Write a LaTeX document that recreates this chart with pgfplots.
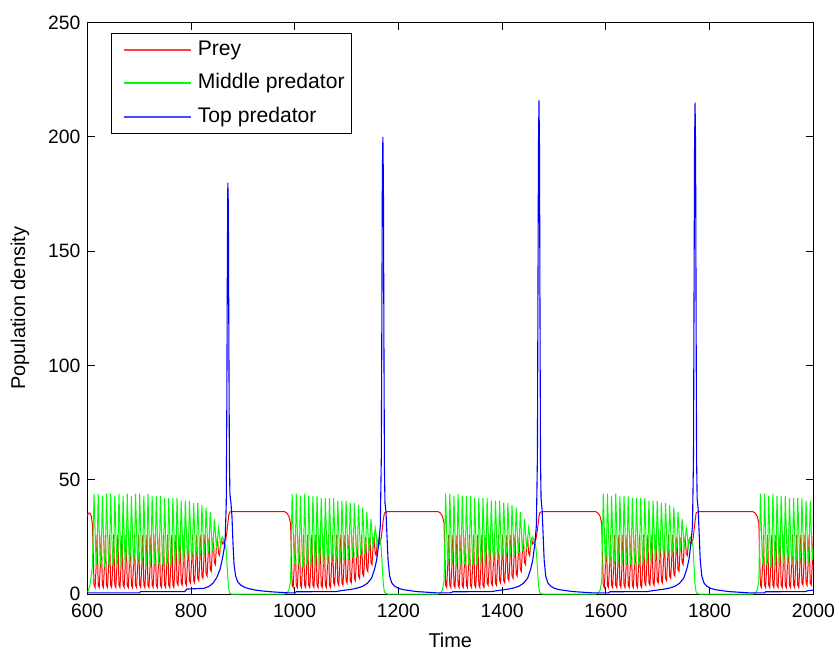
\documentclass[border=0pt]{standalone}
\usepackage{fontspec}
\setmainfont{Liberation Sans}
\usepackage{pgfplots}
\usepackage{pgfplotstable}
\pgfplotsset{compat=1.18}

\pgfplotstableread{
t p m
600 34 1
602 35.5 1.5
605 35.5 4
608 34 9
610 30 13
613 4 44
615 3 28
617 12 13
619 26 18
621 4 44
623 3 28
625 12 13
627 26 18
629 4 43
631 3 27
633 12 12
635 26 17
637 4 44
639 3 28
641 12 13
643 26 18
645 4 44
647 3 28
649 12 13
651 26 18
653 4 43
655 3 28
657 12 13
659 26 18
661 4 44
663 3 28
665 12 12
667 26 17
669 4 43
671 3 27
673 12 13
675 26 18
677 4 44
679 3 28
681 12 13
683 26 18
685 4 43
687 3 28
689 12 13
691 26 18
693 4 44
695 3 28
697 12 13
699 26 18
701 4 44
703 3 28
705 12 13
707 26 18
709 4 43
711 3 27
713 12 12
715 26 17
717 4 44
719 3 28
721 12 13
723 26 18
725 4 43
727 3 28
729 12 13
731 26 18
733 4 43
735 3 28
737 12 13
739 26 18
741 4 43
743 3 28
745 12 13
747 26 18
749 4 42
751 3 27
753 12 13
755 26 18
757 4 42
759 3 27
761 12 13
763 26 18
765 4 42
767 3 28
769 12 14
771 26 19
773 5 42
775 4 28
777 13 14
779 26 19
781 5 41
783 4 27
785 13 14
787 26 19
789 5 41
791 4 28
793 13 15
795 26 20
797 6 41
799 5 28
801 14 15
803 26 20
805 6 40
807 5 28
809 14 16
811 26 21
813 7 40
815 6 28
817 15 16
819 26 21
821 8 39
823 7 28
825 16 17
827 26 22
829 9 38
831 8 28
833 17 18
835 25 23
837 11 36
839 10 28
841 19 19
843 25 23
845 14 33
847 13 27
849 21 20
851 25 24
853 18 29
855 17 26
857 22 21
859 24 24
861 22 25
864 23 23
867 24 21
869 27 15
871 31 7
873 35 2
875 36 0.5
878 36.2 0.1
980 36.2 0.1
985 35.5 0.5
989 34 2
992 31 6
995 4 44
997 3 28
999 12 13
1001 26 18
1003 4 44
1005 3 28
1007 12 13
1009 26 18
1011 4 43
1013 3 27
1015 12 12
1017 26 17
1019 4 44
1021 3 28
1023 12 13
1025 26 18
1027 4 43
1029 3 28
1031 12 13
1033 26 18
1035 4 43
1037 3 28
1039 12 13
1041 26 18
1043 4 43
1045 3 28
1047 12 13
1049 26 18
1051 4 42
1053 3 27
1055 12 13
1057 26 18
1059 4 42
1061 3 27
1063 12 13
1065 26 18
1067 4 42
1069 3 28
1071 12 14
1073 26 19
1075 5 42
1077 4 28
1079 13 14
1081 26 19
1083 5 41
1085 4 27
1087 13 14
1089 26 19
1091 5 41
1093 4 28
1095 13 15
1097 26 20
1099 6 41
1101 5 28
1103 14 15
1105 26 20
1107 6 40
1109 5 28
1111 14 16
1113 26 21
1115 7 40
1117 6 28
1119 15 16
1121 26 21
1123 8 39
1125 7 28
1127 16 17
1129 26 22
1131 9 38
1133 8 28
1135 17 18
1137 25 23
1139 11 36
1141 10 28
1143 19 19
1145 25 23
1147 14 33
1149 13 27
1151 21 20
1153 25 24
1155 18 29
1157 17 26
1159 22 21
1161 24 24
1163 22 25
1165 23 23
1167 25 20
1169 29 11
1171 33 4
1173 35.5 1
1176 36 0.3
1180 36.2 0.1
1276 36.2 0.1
1281 35.5 0.5
1285 34 2
1288 31 6
1291 4 44
1293 3 28
1295 12 13
1297 26 18
1299 4 44
1301 3 28
1303 12 13
1305 26 18
1307 4 43
1309 3 27
1311 12 12
1313 26 17
1315 4 44
1317 3 28
1319 12 13
1321 26 18
1323 4 43
1325 3 28
1327 12 13
1329 26 18
1331 4 43
1333 3 28
1335 12 13
1337 26 18
1339 4 43
1341 3 28
1343 12 13
1345 26 18
1347 4 42
1349 3 27
1351 12 13
1353 26 18
1355 4 42
1357 3 27
1359 12 13
1361 26 18
1363 4 42
1365 3 28
1367 12 14
1369 26 19
1371 5 42
1373 4 28
1375 13 14
1377 26 19
1379 5 41
1381 4 27
1383 13 14
1385 26 19
1387 5 41
1389 4 28
1391 13 15
1393 26 20
1395 6 41
1397 5 28
1399 14 15
1401 26 20
1403 6 40
1405 5 28
1407 14 16
1409 26 21
1411 7 40
1413 6 28
1415 15 16
1417 26 21
1419 8 39
1421 7 28
1423 16 17
1425 26 22
1427 9 38
1429 8 28
1431 17 18
1433 25 23
1435 11 36
1437 10 28
1439 19 19
1441 25 23
1443 14 33
1445 13 27
1447 21 20
1449 25 24
1451 18 29
1453 17 26
1455 22 21
1457 24 24
1459 22 25
1462 23 23
1465 24 21
1468 28 12
1470 32 4
1472 35.5 1
1475 36 0.3
1479 36.2 0.1
1580 36.2 0.1
1585 35.5 0.5
1589 34 2
1592 31 6
1595 4 44
1597 3 28
1599 12 13
1601 26 18
1603 4 44
1605 3 28
1607 12 13
1609 26 18
1611 4 43
1613 3 27
1615 12 12
1617 26 17
1619 4 44
1621 3 28
1623 12 13
1625 26 18
1627 4 43
1629 3 28
1631 12 13
1633 26 18
1635 4 43
1637 3 28
1639 12 13
1641 26 18
1643 4 43
1645 3 28
1647 12 13
1649 26 18
1651 4 42
1653 3 27
1655 12 13
1657 26 18
1659 4 42
1661 3 27
1663 12 13
1665 26 18
1667 4 42
1669 3 28
1671 12 14
1673 26 19
1675 5 42
1677 4 28
1679 13 14
1681 26 19
1683 5 41
1685 4 27
1687 13 14
1689 26 19
1691 5 41
1693 4 28
1695 13 15
1697 26 20
1699 6 41
1701 5 28
1703 14 15
1705 26 20
1707 6 40
1709 5 28
1711 14 16
1713 26 21
1715 7 40
1717 6 28
1719 15 16
1721 26 21
1723 8 39
1725 7 28
1727 16 17
1729 26 22
1731 9 38
1733 8 28
1735 17 18
1737 25 23
1739 11 36
1741 10 28
1743 19 19
1745 25 23
1747 14 33
1749 13 27
1751 21 20
1753 25 24
1755 18 29
1757 17 26
1759 22 21
1761 24 24
1763 22 25
1766 23 23
1768 24 21
1770 28 12
1772 32 4
1774 35.5 1
1777 36 0.3
1781 36.2 0.1
1883 36.2 0.1
1888 35.5 0.5
1892 34 2
1895 31 6
1898 4 44
1900 3 28
1902 12 13
1904 26 18
1906 4 44
1908 3 28
1910 12 13
1912 26 18
1914 4 43
1916 3 27
1918 12 12
1920 26 17
1922 4 44
1924 3 28
1926 12 13
1928 26 18
1930 4 43
1932 3 28
1934 12 13
1936 26 18
1938 4 43
1940 3 28
1942 12 13
1944 26 18
1946 4 43
1948 3 28
1950 12 13
1952 26 18
1954 4 42
1956 3 27
1958 12 13
1960 26 18
1962 4 42
1964 3 27
1966 12 13
1968 26 18
1970 4 42
1972 3 28
1974 12 14
1976 26 19
1978 5 42
1980 4 28
1982 13 14
1984 26 19
1986 5 41
1988 4 27
1990 13 14
1992 26 19
1994 5 41
1996 4 28
1998 13 15
2000 26 20
}\rg

\definecolor{mgreen}{rgb}{0,1,0}

\begin{document}
\begin{tikzpicture}
\useasboundingbox (-43.65bp,-27.85bp) rectangle (375.85bp,297.15bp);
\begin{axis}[
  at={(0,0)}, anchor=south west,
  scale only axis, width=363bp, height=285.9bp,
  xmin=600, xmax=2000, ymin=0, ymax=250,
  xtick={600,800,...,2000}, ytick={0,50,...,250},
  tick align=inside, major tick length=3.6bp,
  axis line style={line width=0.6bp},
  every tick/.style={black, line width=0.5bp},
  /pgf/number format/assume math mode=true,
  /pgf/number format/1000 sep={},
  ticklabel style={font=\fontsize{9.7}{11.6}\selectfont},
  xticklabel style={yshift=-1.4bp},
  xlabel={Time}, ylabel={Population density},
  label style={font=\fontsize{9.7}{11.6}\selectfont},
  every axis x label/.style={at={(axis description cs:0.5,-0.0801)}, anchor=center},
  every axis y label/.style={at={(axis description cs:-0.0927,0.5)}, rotate=90, anchor=center},
  legend cell align=left,
  legend image code/.code={\path (0bp,0bp); \draw[#1] (3bp,0bp) -- (36.5bp,0bp);},
  legend style={at={(axis description cs:0.0322,0.9822)}, anchor=north west,
    draw=black, fill=white,
    font=\fontsize{10.6}{12.7}\selectfont,
    inner xsep=3bp, inner ysep=3.1bp, column sep=2.5bp, row sep=6.3bp,
    nodes={inner xsep=0.5bp, inner ysep=0bp, text height=8bp, text depth=2.5bp}},
]
\addlegendimage{draw=red!75!white, line width=0.8bp}
\addlegendentry{Prey}
\addlegendimage{draw=mgreen, line width=0.9bp}
\addlegendentry{Middle predator}
\addlegendimage{draw=blue!70!white, line width=0.8bp}
\addlegendentry{Top predator}
\addplot[red, line width=0.5bp, forget plot] table[x=t,y=p]{\rg};
\addplot[mgreen, line width=0.5bp, forget plot] table[x=t,y=m]{\rg};
\addplot[blue, line width=0.55bp, forget plot] coordinates {
(600,0.6) (700,0.6) (703,1.2) (788,1.2) (792,2.3) (825,2.6) (835,3.5) (843,5) (850,7.5) (856,11) (860,15) (864,20) (866,25) (868,40) (869,80) (870,140) (871,180) (872,170) (873,110) (874,60) (875,44) (877,40) (879,34) (881,22) (883,13) (886,8) (890,5.5) (896,4) (904,3) (913,2.4) (925,1.8) (940,1.4) (955,1.1) (975,0.8) (990,0.6)
(1000,0.6) (1003,1.1) (1080,1.2) (1090,1.6) (1110,2.2) (1122,2.8) (1131,3.5) (1140,4.8) (1148,7) (1154,11) (1158,15) (1162,22) (1165,30) (1167,60) (1168,120) (1169,185) (1170,200) (1171,180) (1172,110) (1173,55) (1174,40) (1176,36) (1178,25) (1180,15) (1183,8) (1187,5) (1193,3.5) (1200,2.6) (1210,2) (1222,1.6) (1235,1.2) (1255,0.9) (1275,0.6)
(1300,0.6) (1305,1.1) (1380,1.2) (1390,1.6) (1410,2.2) (1423,2.8) (1432,3.5) (1441,4.8) (1449,7) (1455,11) (1459,15) (1463,22) (1466,30) (1468,60) (1469,130) (1470,195) (1471,216) (1472,195) (1473,120) (1474,58) (1475,42) (1477,37) (1479,26) (1481,15) (1484,8) (1488,5) (1494,3.5) (1501,2.6) (1511,2) (1523,1.6) (1536,1.2) (1556,0.9) (1576,0.6)
(1605,0.6) (1608,1.1) (1680,1.2) (1691,1.6) (1711,2.2) (1724,2.8) (1733,3.5) (1742,4.8) (1750,7) (1756,11) (1760,15) (1764,22) (1767,30) (1769,60) (1770,130) (1771,195) (1772,215) (1773,195) (1774,120) (1775,58) (1776,42) (1778,37) (1780,26) (1782,15) (1785,8) (1789,5) (1795,3.5) (1802,2.6) (1812,2) (1824,1.6) (1837,1.2) (1857,0.9) (1877,0.6)
(1905,0.6) (1908,1.1) (1985,1.2) (1990,1.6) (2000,1.8)
};
\end{axis}
\end{tikzpicture}
\end{document}
